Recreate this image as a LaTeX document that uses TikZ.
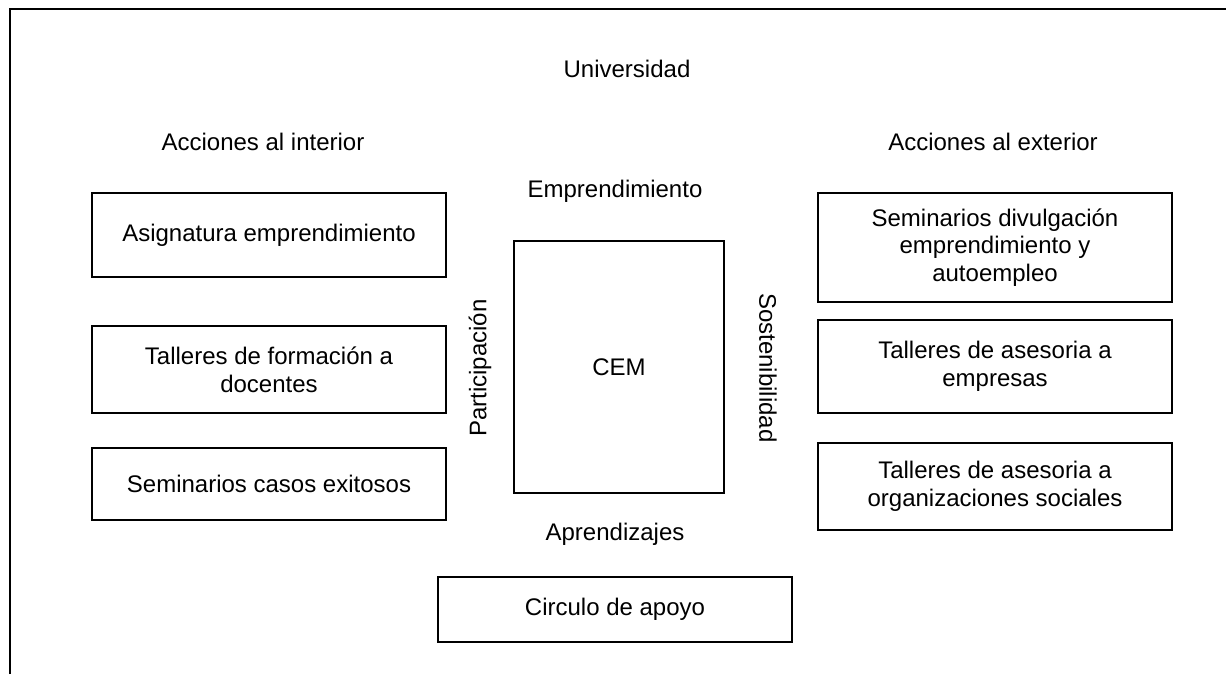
\documentclass[tikz,border=0pt]{standalone}
\usepackage{fontspec}
\setmainfont{Liberation Sans}
\begin{document}
\begin{tikzpicture}[x=0.75pt,y=-0.75pt,
  txt/.style={font=\fontsize{18pt}{20.7pt}\selectfont, inner sep=0pt},
  boxnode/.style={txt, draw, line width=1.5pt, align=center, minimum width=265.5pt},
  frameline/.style={line width=1.5pt}]
\useasboundingbox (0,0) rectangle (1226,674);
% outer frame (cut off at right and bottom)
\coordinate (fbl) at (10,674);
\coordinate (ftl) at (10,9);
\coordinate (ftr) at (1226,9);
\draw[frameline] (fbl) -- (ftl) -- (ftr);
% headings
\node[txt, anchor=base] (univ) at (627,77) {Universidad};
\node[txt, anchor=base] (accint) at (263,150) {Acciones al interior};
\node[txt, anchor=base] (accext) at (993,150) {Acciones al exterior};
\node[txt, anchor=base] (empr) at (615,197) {Emprendimiento};
\node[txt, anchor=base] (apren) at (615,540) {Aprendizajes};
% left boxes
\node[boxnode, minimum height=63pt] (l1) at (269,235) {Asignatura emprendimiento};
\node[boxnode, minimum height=65.25pt] (l2) at (269,369.5) {Talleres de formación a\\docentes};
\node[boxnode, minimum height=54pt] (l3) at (269,484) {Seminarios casos exitosos};
% centre
\node[boxnode, minimum width=157.5pt, minimum height=189pt] (cem) at (619,367) {CEM};
\node[txt, rotate=90] (part) at (480,368) {Participación};
\node[txt, rotate=-90] (sost) at (768,368) {Sostenibilidad};
% right boxes
\node[boxnode, minimum height=81.75pt] (r1) at (995,247.5) {Seminarios divulgación\\emprendimiento y\\autoempleo};
\node[boxnode, minimum height=69.75pt] (r2) at (995,366.5) {Talleres de asesoria a\\empresas};
\node[boxnode, minimum height=65.25pt] (r3) at (995,486.5) {Talleres de asesoria a\\organizaciones sociales};
% bottom
\node[boxnode, minimum height=48.75pt] (circ) at (615,609.5) {Circulo de apoyo};
\end{tikzpicture}
\end{document}
